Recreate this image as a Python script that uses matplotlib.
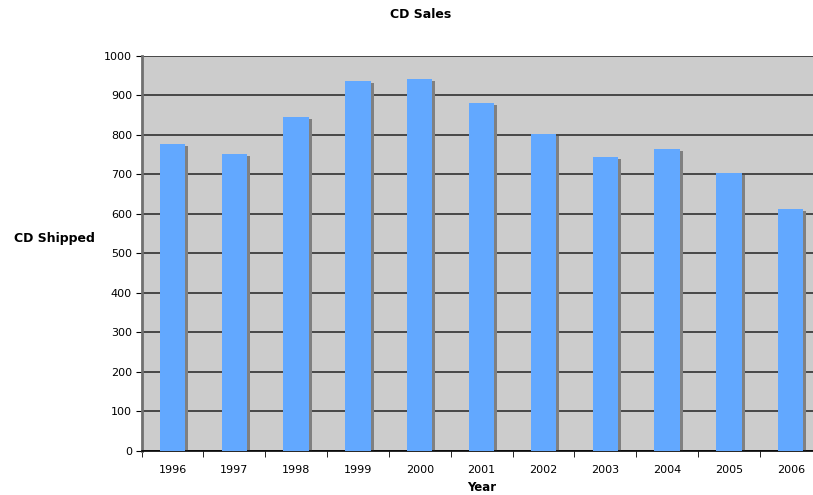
import matplotlib
matplotlib.use("Agg")
import matplotlib.pyplot as plt
import matplotlib.transforms as mtransforms
import numpy as np

years = ["1996", "1997", "1998", "1999", "2000", "2001", "2002", "2003", "2004", "2005", "2006"]
shipped = [777, 752, 846, 937, 942, 880, 802, 744, 765, 704, 613]
yticks = [0, 100, 200, 300, 400, 500, 600, 700, 800, 900, 1000]

fig = plt.figure(figsize=(8.13, 4.95), dpi=100)
ax = fig.add_axes([0.1742, 0.0889, 0.8364, 0.798])
ax.set_facecolor("#CCCCCC")

x = np.arange(len(years))
shadow_tr = ax.transData + mtransforms.ScaledTranslation(3 / 100, -2 / 100, fig.dpi_scale_trans)
ax.bar(x, shipped, width=0.41, color="#808080", transform=shadow_tr, zorder=2)
ax.bar(x, shipped, width=0.41, color="#62A8FF", zorder=3)

ax.set_xlim(-0.5, len(years) - 0.5)
ax.set_ylim(0, 1000)
ax.set_yticks(yticks)
ax.set_yticklabels([str(v) for v in yticks], fontsize=8)
ax.yaxis.grid(True, color="#303030", linewidth=1.2, zorder=1)
ax.set_axisbelow(True)

ax.set_xticks(x)
ax.set_xticklabels(years, fontsize=8)
ax.set_xticks(np.arange(-0.5, len(years)), minor=True)
ax.tick_params(axis="x", which="major", length=0, pad=10)
ax.tick_params(axis="x", which="minor", length=4, color="black", direction="out")
ax.tick_params(axis="y", length=4, color="black", direction="out", pad=3)

for s in ["top", "right"]:
    ax.spines[s].set_visible(False)
ax.spines["left"].set_color("#707070")
ax.spines["left"].set_linewidth(2)
ax.spines["bottom"].set_color("black")
ax.spines["bottom"].set_linewidth(1.2)

fig.text(0.517, 0.97, "CD Sales", ha="center", va="center", fontsize=9, fontweight="bold")
fig.text(0.067, 0.519, "CD Shipped", ha="center", va="center", fontsize=9, fontweight="bold")
fig.text(0.592, 0.016, "Year", ha="center", va="center", fontsize=8.5, fontweight="bold")

fig.savefig("out.png", dpi=100)
